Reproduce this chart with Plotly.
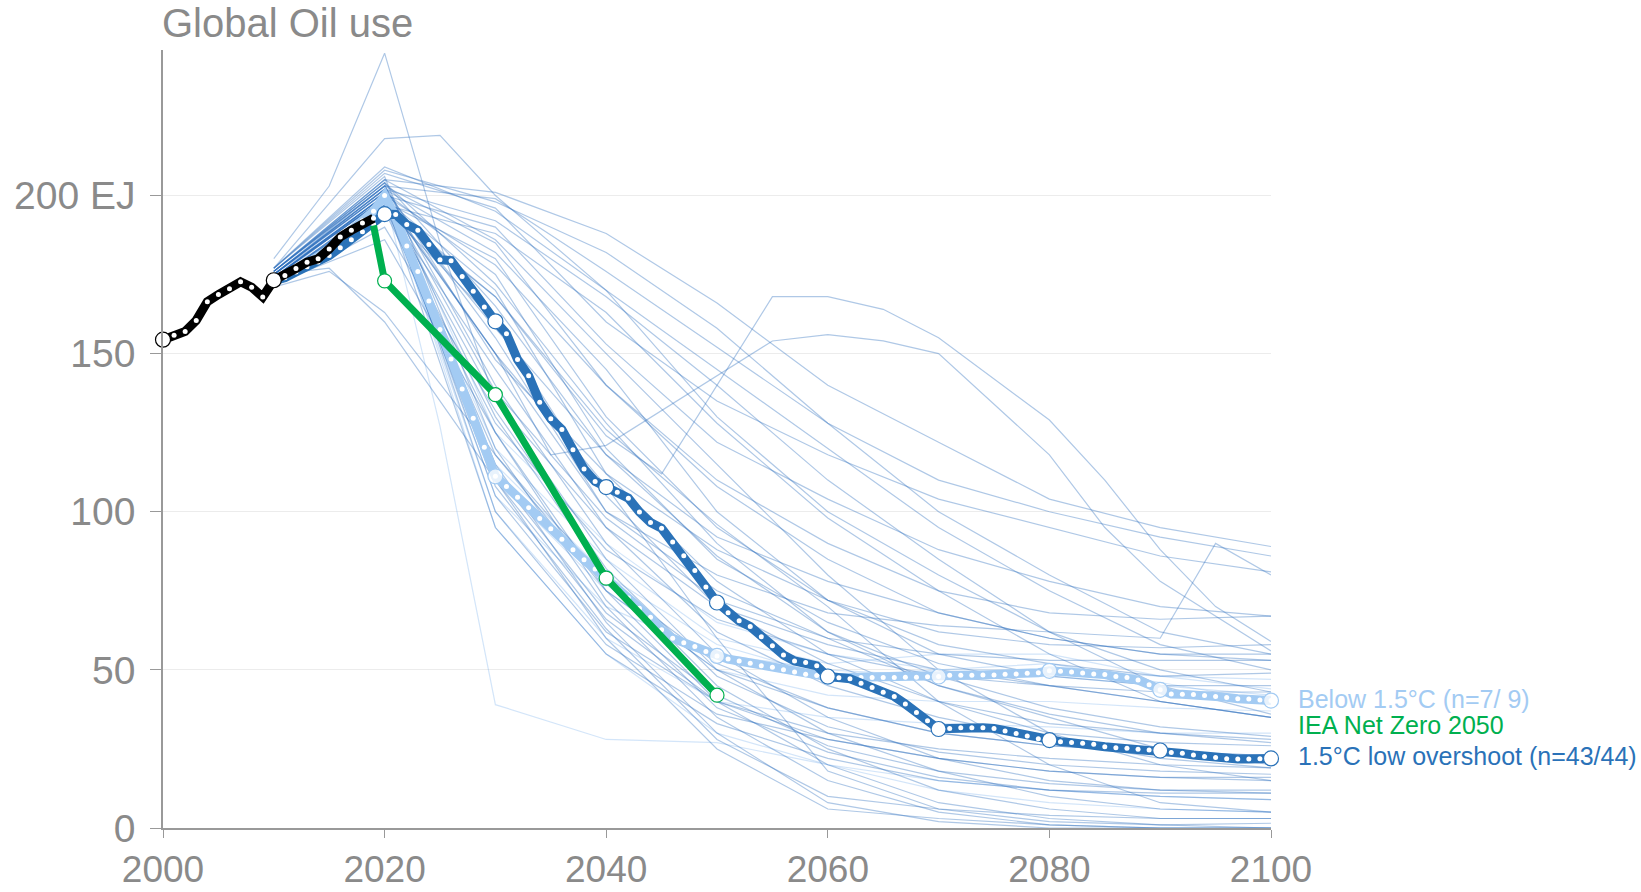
import plotly.graph_objects as go

# ---------------- data ----------------
HIST_YEARS = list(range(2000, 2020))
HIST_VALUES = [154.4, 155.8, 157.0, 160.5, 166.4, 168.7, 170.5, 172.7, 171.0, 167.9,
               173.2, 174.7, 176.9, 178.9, 180.0, 183.1, 186.9, 189.0, 191.3, 192.8]

MEDIAN_YEARS = list(range(2010, 2101))
LOW_OVERSHOOT_MEDIAN = [
    173.2, 174.0, 175.8, 177.5, 179.0, 181.0, 183.5, 186.0, 188.5, 191.0,
    194.1, 194.0, 190.8, 189.0, 184.5, 179.7, 179.4, 174.4, 169.7, 164.7,
    160.2, 156.3, 148.1, 143.0, 134.6, 129.4, 126.0, 119.6, 113.5, 109.6,
    107.8, 106.2, 104.3, 99.9, 96.6, 94.8, 90.4, 86.1, 81.4, 76.2,
    71.3, 68.1, 65.5, 63.7, 60.5, 57.6, 54.7, 52.8, 52.3, 51.3,
    47.9, 47.5, 47.2, 45.8, 44.4, 42.9, 41.6, 39.2, 36.5, 33.9,
    31.3, 31.5, 31.7, 31.7, 31.7, 31.5, 30.7, 29.9, 29.1, 28.2,
    27.8, 27.3, 27.0, 26.8, 26.5, 25.7, 25.4, 25.2, 24.9, 24.7,
    24.5, 23.9, 23.6, 23.1, 22.6, 22.3, 21.9, 21.8, 21.8, 21.9,
    22.0]
BELOW_15_MEDIAN = [
    173.2, 174.5, 176.5, 178.5, 180.5, 183.0, 186.0, 189.0, 192.0, 195.0,
    200.0, 193.0, 184.0, 176.0, 166.6, 157.6, 148.3, 138.8, 129.6, 120.4,
    111.2, 108.0, 104.6, 101.3, 97.9, 94.6, 91.3, 88.0, 84.8, 81.9,
    79.0, 75.8, 72.7, 69.5, 66.6, 62.7, 60.0, 58.6, 57.4, 55.8,
    54.4, 53.4, 52.8, 52.1, 51.3, 50.8, 50.0, 49.3, 48.6, 48.2,
    47.8, 47.6, 47.6, 47.6, 47.6, 47.6, 47.6, 47.7, 47.7, 47.8,
    47.9, 48.3, 48.3, 48.3, 48.4, 48.4, 48.6, 48.7, 48.9, 49.1,
    49.7, 49.6, 49.3, 49.0, 48.7, 48.5, 47.9, 47.6, 46.8, 45.3,
    43.7, 42.4, 42.3, 42.2, 41.9, 41.6, 41.3, 40.9, 40.8, 40.5,
    40.3]
assert len(LOW_OVERSHOOT_MEDIAN) == len(MEDIAN_YEARS) == len(BELOW_15_MEDIAN)

IEA_YEARS = [2019, 2020, 2030, 2040, 2050]
IEA_VALUES = [190.5, 173.0, 137.0, 79.0, 42.0]

DEC_YEARS = [2010, 2020, 2030, 2040, 2050, 2060, 2070, 2080, 2090, 2100]

# individual 1.5C low-overshoot scenarios (decadal unless own years given)
LOW_OVERSHOOT_RUNS = [
    [176, 205, 201, 188, 166, 140, 122, 104, 95, 89],
    [175, 203, 199, 176, 152, 128, 110, 100, 92, 86],
    [177, 207, 196, 160, 135, 118, 104, 95, 86, 81],
    [174, 200, 190, 153, 122, 104, 88, 78, 70, 67],
    [176, 203, 185, 140, 108, 85, 68, 60, 55, 53],
    [173, 198, 180, 130, 95, 72, 58, 52, 48, 49],
    [175, 201, 175, 120, 85, 65, 52, 45, 40, 35],
    [174, 199, 170, 112, 78, 55, 40, 33, 30, 28],
    [176, 204, 165, 118, 92, 78, 68, 60, 55, 55],
    [172, 196, 160, 105, 70, 52, 40, 30, 27, 26],
    [175, 202, 155, 100, 75, 60, 45, 35, 25, 20],
    [173, 197, 145, 95, 62, 45, 35, 28, 22, 19],
    [176, 203, 140, 90, 55, 35, 22, 15, 12, 11],
    [174, 199, 135, 85, 50, 30, 18, 10, 6, 5],
    [175, 201, 130, 80, 45, 25, 12, 6, 3, 3],
    [172, 195, 125, 75, 40, 20, 8, 3, 1, 1.5],
    [177, 206, 120, 70, 35, 15, 5, 1, 0, 0],
    [174, 200, 115, 65, 30, 8, 2, 0, 0, 0],
    [173, 198, 110, 60, 25, 6, 3, 1, 0, 0],
    [175, 202, 105, 62, 40, 30, 25, 22, 20, 19],
    [176, 204, 100, 58, 36, 28, 22, 18, 16, 16],
    [174, 199, 95, 55, 33, 22, 15, 12, 11, 11],
    [172, 196, 128, 88, 66, 55, 48, 45, 43, 43],
    [175, 201, 138, 98, 72, 60, 55, 53, 53, 53],
    [176, 203, 148, 112, 88, 72, 62, 58, 57, 58],
    [174, 200, 178, 140, 110, 90, 75, 68, 66, 67],
    [173, 197, 188, 163, 128, 98, 75, 55, 40, 35],
    [175, 202, 192, 168, 140, 110, 85, 62, 45, 36],
    [177, 208, 198, 182, 158, 128, 100, 80, 62, 55],
    [174, 200, 158, 118, 86, 62, 48, 38, 32, 29],
    [176, 204, 172, 128, 90, 62, 45, 36, 30, 27],
    [173, 198, 118, 75, 50, 38, 30, 26, 24, 23],
    [175, 201, 112, 68, 42, 26, 18, 14, 12, 12],
    [174, 199, 108, 63, 28, 10, 6, 4, 3, 3],
    [176, 205, 186, 150, 115, 80, 50, 30, 20, 15],
    [175, 202, 182, 145, 100, 72, 55, 48, 45, 45],
    [173, 197, 168, 126, 96, 70, 40, 20, 8, 5],
    [177, 209, 195, 170, 145, 120, 95, 75, 58, 50],
    [174, 199, 150, 108, 60, 18, 6, 2, 1, 0],
    [172, 186, 125, 72, 38, 24, 16, 12, 10, 9],
    [171, 190, 132, 82, 48, 32, 24, 20, 18, 17],
]
SPECIAL_RUN_YEARS = [
    [2010, 2015, 2020, 2025, 2030, 2040, 2050, 2060, 2070, 2080, 2090, 2100],
    [2010, 2020, 2025, 2030, 2040, 2050, 2060, 2070, 2080, 2090, 2100],
    [2010, 2020, 2030, 2040, 2045, 2055, 2060, 2065, 2070, 2080, 2085, 2090, 2095, 2100],
    [2010, 2020, 2030, 2035, 2040, 2055, 2060, 2065, 2070, 2080, 2085, 2090, 2100],
    [2010, 2020, 2030, 2040, 2050, 2060, 2070, 2080, 2090, 2095, 2100],
    [2010, 2015, 2020, 2030, 2040, 2050, 2060, 2070, 2080, 2090, 2100],
    [2010, 2015, 2020, 2030, 2040, 2050, 2060, 2070, 2080, 2090, 2100],
]
SPECIAL_RUN_VALUES = [
    [180, 203, 245, 185, 135, 95, 70, 58, 50, 45, 40, 35],
    [177, 218, 219, 200, 170, 130, 100, 80, 62, 50, 43],
    [172, 196, 168, 124, 112, 168, 168, 164, 155, 129, 110, 88, 70, 59],
    [175, 199, 150, 118, 121, 154, 156, 154, 150, 118, 95, 78, 56],
    [174, 200, 150, 100, 80, 68, 64, 62, 60, 90, 80],
    [175, 177, 160, 110, 66, 40, 28, 22, 18, 16, 15],
    [171, 176, 163, 118, 78, 52, 38, 30, 26, 24, 23],
]

# individual below-1.5C scenarios
BELOW_15_RUN_YEARS = [
    [2010, 2020, 2025, 2030, 2040, 2050, 2060, 2070, 2080, 2090, 2100],
]
BELOW_15_RUN_VALUES = [
    [173, 200, 127, 39, 28, 27, 20, 12, 8, 6, 5],
]
BELOW_15_RUNS = [
    [174, 200, 105, 70, 55, 50, 48, 48, 45, 42],
    [175, 202, 115, 80, 58, 48, 50, 52, 46, 40],
    [173, 198, 120, 85, 60, 52, 55, 55, 48, 44],
    [174, 201, 100, 60, 40, 35, 33, 32, 30, 30],
    [176, 205, 125, 90, 65, 55, 50, 50, 48, 47],
    [173, 197, 110, 75, 50, 42, 40, 40, 38, 37],
    [175, 203, 95, 55, 30, 20, 15, 12, 10, 9],
]

Y_TICKS = [0, 50, 100, 150, 200]
Y_TICK_TEXT = ["0", "50", "100", "150", "200 EJ"]
X_TICKS = [2000, 2020, 2040, 2060, 2080, 2100]

# ---------------- styles ----------------
GREY = "#8a8a8a"
DARK = "#2a72b8"
LIGHT = "#a3cbf3"
GREEN = "#00b04f"
FONT = "Liberation Sans, Arial, sans-serif"

fig = go.Figure()

def thin(x, y, color):
    fig.add_trace(go.Scatter(x=x, y=y, mode="lines",
                             line=dict(color=color, width=1.2),
                             hoverinfo="skip", showlegend=False, cliponaxis=False))

for vals in BELOW_15_RUNS:
    thin(DEC_YEARS, vals, "rgba(110,170,235,0.3)")
for yrs, vals in zip(BELOW_15_RUN_YEARS, BELOW_15_RUN_VALUES):
    thin(yrs, vals, "rgba(110,170,235,0.3)")
for vals in LOW_OVERSHOOT_RUNS:
    thin(DEC_YEARS, vals, "rgba(45,110,190,0.38)")
for yrs, vals in zip(SPECIAL_RUN_YEARS, SPECIAL_RUN_VALUES):
    thin(yrs, vals, "rgba(45,110,190,0.38)")


def dotted_line(x, y, color, width, big_years, big_fill, big_line):
    fig.add_trace(go.Scatter(
        x=x, y=y, mode="lines+markers",
        line=dict(color=color, width=width),
        marker=dict(color="white", size=5, line=dict(width=0)),
        hoverinfo="skip", showlegend=False, cliponaxis=False))
    bx = [a for a in x if a in big_years]
    by = [b for a, b in zip(x, y) if a in big_years]
    fig.add_trace(go.Scatter(
        x=bx, y=by, mode="markers",
        marker=dict(color=big_fill, size=15, line=dict(color=big_line, width=1.2)),
        hoverinfo="skip", showlegend=False, cliponaxis=False))

decades = set(range(2000, 2101, 10))
dotted_line(MEDIAN_YEARS, BELOW_15_MEDIAN, LIGHT, 9, decades - {2010, 2020},
            "rgba(255,255,255,0.75)", LIGHT)
dotted_line(MEDIAN_YEARS, LOW_OVERSHOOT_MEDIAN, DARK, 9, decades - {2010},
            "white", DARK)

# IEA NZE
fig.add_trace(go.Scatter(x=IEA_YEARS, y=IEA_VALUES, mode="lines",
                         line=dict(color=GREEN, width=7),
                         hoverinfo="skip", showlegend=False, cliponaxis=False))
fig.add_trace(go.Scatter(x=IEA_YEARS[1:], y=IEA_VALUES[1:], mode="markers",
                         marker=dict(color="white", size=14, line=dict(color=GREEN, width=1.2)),
                         hoverinfo="skip", showlegend=False, cliponaxis=False))

# historical
dotted_line(HIST_YEARS, HIST_VALUES, "black", 9, {2000, 2010}, "white", "black")

# labels at right
label_x = 2100
LABEL_SIZE = 25
fig.add_annotation(x=label_x, y=BELOW_15_MEDIAN[-1], text="Below 1.5°C (n=7/ 9)",
                   xanchor="left", yanchor="middle", xshift=25, yshift=2, showarrow=False,
                   font=dict(family=FONT, size=LABEL_SIZE, color=LIGHT))
fig.add_annotation(x=label_x, y=(BELOW_15_MEDIAN[-1] + LOW_OVERSHOOT_MEDIAN[-1]) / 2,
                   text="IEA Net Zero 2050",
                   xanchor="left", yanchor="middle", xshift=25, yshift=4, showarrow=False,
                   font=dict(family=FONT, size=LABEL_SIZE, color=GREEN))
fig.add_annotation(x=label_x, y=LOW_OVERSHOOT_MEDIAN[-1], text="1.5°C low overshoot (n=43/44)",
                   xanchor="left", yanchor="middle", xshift=25, yshift=2, showarrow=False,
                   font=dict(family=FONT, size=LABEL_SIZE, color=DARK))

# title
fig.add_annotation(xref="paper", yref="paper", x=0, y=1, xanchor="left", yanchor="bottom",
                   text="Global Oil use", showarrow=False, xshift=-3, yshift=3,
                   font=dict(family=FONT, size=40, color=GREY))

fig.update_layout(
    width=1641, height=892,
    margin=dict(l=163, r=370, t=50, b=64, autoexpand=False),
    paper_bgcolor="white", plot_bgcolor="white",
    font=dict(family=FONT, color=GREY),
    showlegend=False,
    xaxis=dict(range=[2000, 2100], tickvals=X_TICKS, showgrid=False, zeroline=False,
               automargin=False,
               showline=True, linecolor="#999999", linewidth=1.5,
               ticks="outside", ticklen=8, tickcolor="#999999", tickwidth=1,
               tickfont=dict(family=FONT, size=37, color=GREY), ticklabelstandoff=0),
    yaxis=dict(range=[0, 246], tickvals=Y_TICKS, ticktext=Y_TICK_TEXT,
               automargin=False,
               showgrid=True, gridcolor="#ececec", gridwidth=1, zeroline=False,
               showline=True, linecolor="#999999", linewidth=1.5,
               ticks="outside", ticklen=11, tickcolor="#999999", tickwidth=1,
               tickfont=dict(family=FONT, size=39, color=GREY), ticklabelstandoff=7),
)

fig.write_html("out.html")
